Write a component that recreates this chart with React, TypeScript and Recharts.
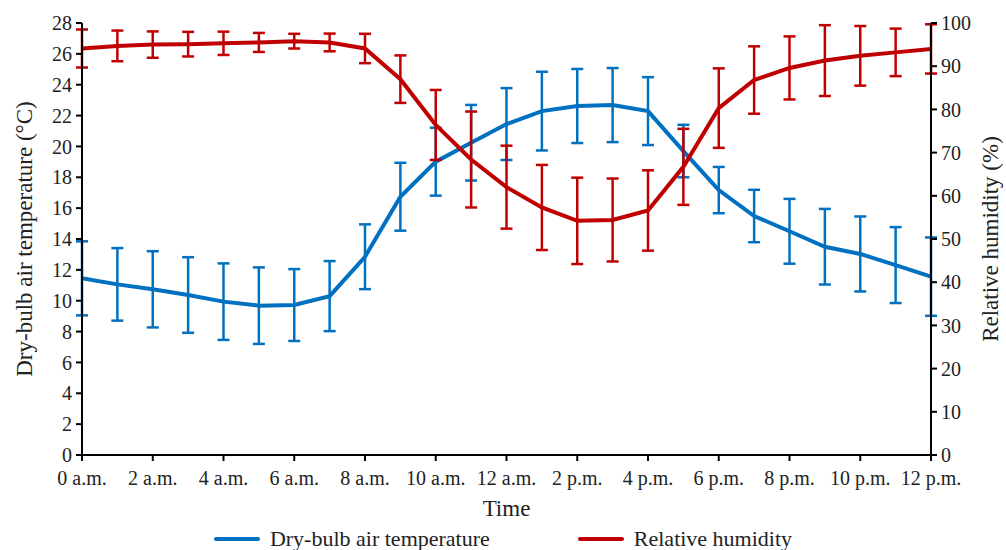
import { ComposedChart, Line, XAxis, YAxis, ErrorBar, Legend } from 'recharts';

const HOURS = [0, 1, 2, 3, 4, 5, 6, 7, 8, 9, 10, 11, 12, 13, 14, 15, 16, 17, 18, 19, 20, 21, 22, 23, 24];
const TICK_HOURS = [0, 2, 4, 6, 8, 10, 12, 14, 16, 18, 20, 22, 24];
const TIME_LABELS = [
    '0 a.m.', '2 a.m.', '4 a.m.', '6 a.m.', '8 a.m.', '10 a.m.', '12 a.m.',
    '2 p.m.', '4 p.m.', '6 p.m.', '8 p.m.', '10 p.m.', '12 p.m.',
];

// dry-bulb air temperature (°C), mean and SD
const TEMPERATURE = [11.45, 11.06, 10.74, 10.37, 9.94, 9.68, 9.72, 10.3, 12.85, 16.74, 19.01, 20.24, 21.45, 22.29, 22.62, 22.68, 22.29, 19.7, 17.17, 15.49, 14.5, 13.5, 13.03, 12.31, 11.56];
const TEMPERATURE_SD = [2.4, 2.35, 2.47, 2.45, 2.48, 2.48, 2.33, 2.27, 2.1, 2.2, 2.2, 2.45, 2.33, 2.55, 2.4, 2.4, 2.2, 1.7, 1.5, 1.7, 2.1, 2.45, 2.43, 2.46, 2.54];

// relative humidity (%), mean and SD
const HUMIDITY = [94.1, 94.7, 95.0, 95.1, 95.3, 95.5, 95.8, 95.5, 94.1, 87.0, 76.4, 68.4, 62.0, 57.3, 54.2, 54.4, 56.6, 66.7, 80.3, 86.8, 89.6, 91.3, 92.4, 93.2, 94.0];
const HUMIDITY_SD = [4.4, 3.55, 3.05, 2.85, 2.7, 2.2, 1.7, 2.05, 3.4, 5.5, 8.1, 11.1, 9.6, 9.85, 10, 9.6, 9.3, 8.8, 9.2, 7.8, 7.3, 8.2, 6.9, 5.5, 5.7];

const TEMP_TICKS = [0, 2, 4, 6, 8, 10, 12, 14, 16, 18, 20, 22, 24, 26, 28];
const RH_TICKS = [0, 10, 20, 30, 40, 50, 60, 70, 80, 90, 100];

const BLUE = '#0070C0';
const RED = '#C00000';
const FONT = '"Liberation Serif", serif';

const data = HOURS.map((hour, i) => ({
    hour,
    temp: TEMPERATURE[i],
    tempSd: TEMPERATURE_SD[i],
    rh: HUMIDITY[i],
    rhSd: HUMIDITY_SD[i],
}));

const tickStyle = { fontSize: 20, fill: '#222', fontFamily: FONT };
const axisStroke = { stroke: '#000', strokeWidth: 2 };

function LegendBox() {
    const item = (color: string, text: string) => (
        <span style={{ display: 'inline-flex', alignItems: 'center', margin: '0 44px' }}>
            <span style={{ display: 'inline-block', width: 46, height: 4, background: color, borderRadius: 2, marginRight: 10 }} />
            <span>{text}</span>
        </span>
    );
    return (
        <div style={{ textAlign: 'center', fontFamily: FONT, fontSize: 22, lineHeight: '24px', color: '#222', paddingTop: 2 }}>
            {item(BLUE, 'Dry-bulb air temperature')}
            {item(RED, 'Relative humidity')}
        </div>
    );
}

export default function App() {
    return (
        <div style={{ position: 'absolute', left: 0, top: 0, background: '#fff' }}>
            <ComposedChart
                width={1006}
                height={550}
                data={data}
                margin={{ top: 23, right: 0, bottom: 0, left: 0 }}
            >
                <XAxis
                    dataKey="hour"
                    type="number"
                    domain={[0, 24]}
                    ticks={TICK_HOURS}
                    interval={0}
                    tickFormatter={(h: number) => TIME_LABELS[TICK_HOURS.indexOf(h)]}
                    tick={tickStyle}
                    tickSize={6}
                    tickMargin={10}
                    axisLine={axisStroke}
                    tickLine={axisStroke}
                    height={65}
                    label={{ value: 'Time', position: 'insideBottom', offset: 4, style: { fontSize: 23, fill: '#222', fontFamily: FONT } }}
                />
                <YAxis
                    yAxisId="t"
                    domain={[0, 28]}
                    ticks={TEMP_TICKS}
                    interval={0}
                    tick={tickStyle}
                    tickSize={6}
                    tickMargin={4}
                    axisLine={axisStroke}
                    tickLine={axisStroke}
                    width={82}
                    label={{
                        value: 'Dry-bulb air temperature (°C)',
                        angle: -90,
                        position: 'insideLeft',
                        offset: 24,
                        style: { textAnchor: 'middle', fontSize: 23, fill: '#222', fontFamily: FONT },
                    }}
                />
                <YAxis
                    yAxisId="rh"
                    orientation="right"
                    domain={[0, 100]}
                    ticks={RH_TICKS}
                    interval={0}
                    tick={tickStyle}
                    tickSize={6}
                    tickMargin={4}
                    axisLine={axisStroke}
                    tickLine={axisStroke}
                    width={75}
                    label={{
                        value: 'Relative humidity (%)',
                        angle: -90,
                        position: 'insideRight',
                        offset: 16,
                        style: { textAnchor: 'middle', fontSize: 23, fill: '#222', fontFamily: FONT },
                    }}
                />
                <Legend verticalAlign="bottom" height={30} content={<LegendBox />} />
                <Line
                    yAxisId="t"
                    type="linear"
                    dataKey="temp"
                    stroke={BLUE}
                    strokeWidth={4}
                    dot={false}
                    isAnimationActive={false}
                >
                    <ErrorBar dataKey="tempSd" width={6} stroke={BLUE} strokeWidth={2.5} direction="y" isAnimationActive={false} />
                </Line>
                <Line
                    yAxisId="rh"
                    type="linear"
                    dataKey="rh"
                    stroke={RED}
                    strokeWidth={4}
                    dot={false}
                    isAnimationActive={false}
                >
                    <ErrorBar dataKey="rhSd" width={6} stroke={RED} strokeWidth={2.5} direction="y" isAnimationActive={false} />
                </Line>
            </ComposedChart>
        </div>
    );
}
